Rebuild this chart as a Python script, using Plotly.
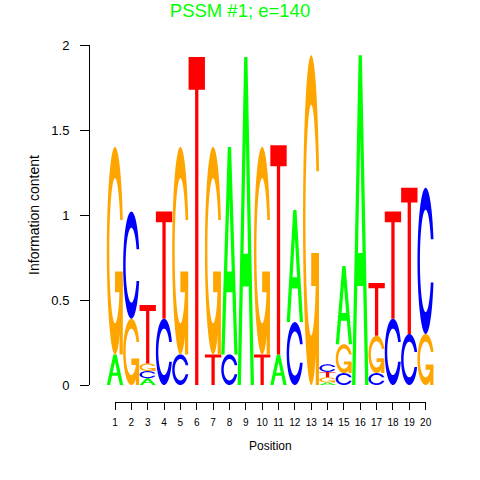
import numpy as np
import plotly.graph_objects as go

# ---------------- data ----------------
positions = list(range(1, 21))
A_bits = [0.18, 0.00, 0.040, 0.00, 0.00, 0.00, 0.00, 1.22, 1.93, 0.00,
          0.18, 0.66, 0.00, 0.015, 0.46, 1.94, 0.00, 0.00, 0.00, 0.00]
C_bits = [0.00, 0.63, 0.042, 0.39, 0.18, 0.00, 0.00, 0.18, 0.00, 0.00,
          0.00, 0.37, 0.00, 0.045, 0.07, 0.00, 0.07, 0.39, 0.30, 0.86]
G_bits = [1.22, 0.39, 0.045, 0.00, 1.22, 0.00, 1.22, 0.00, 0.00, 1.22,
          0.00, 0.00, 1.94, 0.030, 0.17, 0.00, 0.22, 0.00, 0.00, 0.30]
T_bits = [0.00, 0.00, 0.343, 0.63, 0.00, 1.93, 0.18, 0.00, 0.00, 0.18,
          1.23, 0.00, 0.00, 0.032, 0.00, 0.00, 0.31, 0.63, 0.86, 0.00]
letters = ["A", "C", "G", "T"]
letter_colors = {"A": "#00FF00", "C": "#0000FF", "G": "#FFA500", "T": "#FF0000"}
y_tickvals = [0, 0.5, 1, 1.5, 2]
y_ticktext = ["0", "0.5", "1", "1.5", "2"]
title_text = "PSSM #1; e=140"
title_color = "#00FF00"

# ---------------- glyph templates (unit box) ----------------
n = 40
a1 = np.linspace(0.3 + np.pi / 2, np.pi, n)
a2 = np.linspace(np.pi, 1.5 * np.pi, n)
xl1, yl1 = 0.5 + 0.5 * np.sin(a1), 0.5 + 0.5 * np.cos(a1)
xl2, yl2 = 0.5 + 0.5 * np.sin(a2), 0.5 + 0.5 * np.cos(a2)
xl, yl = np.concatenate([xl1, xl2]), np.concatenate([yl1, yl2])
ymax1 = yl1.max()
xi1, yi1 = 0.5 + 0.35 * np.sin(a1), 0.5 + 0.35 * np.cos(a1)
m = yi1 <= ymax1
xi1, yi1 = xi1[m], yi1[m].copy()
yi1[0] = ymax1
xi2, yi2 = 0.5 + 0.35 * np.sin(a2), 0.5 + 0.35 * np.cos(a2)
xi, yi = np.concatenate([xi1, xi2]), np.concatenate([yi1, yi2])
ring_x = np.concatenate([xl, xl[::-1], np.concatenate([xi, xi[::-1]])[::-1]])
ring_y = np.concatenate([yl, 1 - yl[::-1], np.concatenate([yi, 1 - yi[::-1]])[::-1]])
r1 = xl1.max()

glyphs = {
    "A": [(np.array([0, 4, 6, 10, 8, 6.8, 3.2, 2, 0]) / 10,
           np.array([0, 10, 10, 0, 0, 3, 3, 0, 0]) / 10),
          (np.array([3.6, 5, 6.4, 3.6]) / 10,
           np.array([4, 7.5, 4, 4]) / 10)],
    "T": [(np.array([0, 10, 10, 6, 6, 4, 4, 0]) / 10,
           np.array([10, 10, 9, 9, 0, 0, 9, 9]) / 10)],
    "C": [(ring_x, ring_y)],
    "G": [(ring_x, ring_y)],
}
G_bar = (np.array([r1, 0.5, 0.5, r1 - 0.2, r1 - 0.2, r1]),
         np.array([0.4, 0.4, 0.3, 0.3, 0.0, 0.0]))


def subpath(gx, gy, x0, y0, h):
    pts = [f"{x0 + a:.4f},{y0 + b * h:.4f}" for a, b in zip(gx, gy)]
    return "M" + " L".join(pts) + " Z"


shapes = []
bits = {"A": A_bits, "C": C_bits, "G": G_bits, "T": T_bits}
for i, p in enumerate(positions):
    stack = sorted([(bits[L][i], L) for L in letters if bits[L][i] > 0])
    base = 0.0
    for h, L in stack:
        x0 = p - 0.5
        col = letter_colors[L]
        path = " ".join(subpath(gx, gy, x0, base, h) for gx, gy in glyphs[L])
        shapes.append(dict(type="path", xref="x", yref="y", path=path,
                           fillcolor=col, line=dict(width=0),
                           fillrule="evenodd", layer="above"))
        if L == "G":
            shapes.append(dict(type="path", xref="x", yref="y",
                               path=subpath(G_bar[0], G_bar[1], x0, base, h),
                               fillcolor=col, line=dict(width=0), layer="above"))
        base += h

# ---------------- layout (pixel geometry, page body margin removed) ----------------
W = H = 480
left, right = 90, 450
top, y0_px, xline_px = 45, 385, 402
col1_px, step_px = 115.0, 16.35
col20_px = col1_px + 19 * step_px
title_px = 11
paper_h = xline_px - top
paper_w = right - left

x_lo = positions[0] - (col1_px - left) / step_px
x_hi = positions[-1] + (right - col20_px) / step_px

font_family = "Liberation Sans, Arial, Helvetica, sans-serif"

fig = go.Figure()
fig.add_trace(go.Scatter(x=[None], y=[None], xaxis="x", yaxis="y",
                         showlegend=False, hoverinfo="skip"))
fig.add_trace(go.Scatter(x=[None], y=[None], xaxis="x2", yaxis="y2",
                         showlegend=False, hoverinfo="skip"))

fig.update_layout(
    width=W, height=H,
    margin=dict(l=left, r=W - right, t=top, b=H - xline_px, pad=0),
    paper_bgcolor="white", plot_bgcolor="white",
    font=dict(family=font_family, color="black"),
    title=dict(text=title_text, x=0.5, xref="container", xanchor="center",
               y=1 - title_px / H, yref="container", yanchor="middle",
               font=dict(size=18.5, color=title_color, family=font_family)),
    shapes=shapes,
    xaxis=dict(domain=[0, 1], range=[x_lo, x_hi], visible=False,
               anchor="y", fixedrange=True),
    yaxis=dict(domain=[(xline_px - y0_px) / paper_h, 1], range=[0, 2],
               anchor="x", showline=True, linecolor="black", linewidth=1,
               ticks="outside", ticklen=9, tickcolor="black", tickwidth=1,
               tickvals=y_tickvals, ticktext=y_ticktext,
               tickfont=dict(size=13), ticklabelstandoff=8,
               showgrid=False, zeroline=False,
               title=dict(text="Information content", font=dict(size=14),
                          standoff=8)),
    xaxis2=dict(domain=[(col1_px - left) / paper_w, (col20_px - left) / paper_w],
                range=[positions[0], positions[-1]], anchor="y2",
                showline=True, linecolor="black", linewidth=1,
                ticks="outside", ticklen=7, tickcolor="black", tickwidth=1,
                tickvals=positions, ticktext=[str(p) for p in positions],
                tickfont=dict(size=10), ticklabelstandoff=4,
                showgrid=False, zeroline=False,
                title=dict(text="Position", font=dict(size=12), standoff=14)),
    yaxis2=dict(domain=[0, 0.01], anchor="x2", visible=False, range=[0, 1]),
)

fig.write_html("out.html", config={"displayModeBar": False},
               post_script="document.body.style.margin='0px';")
